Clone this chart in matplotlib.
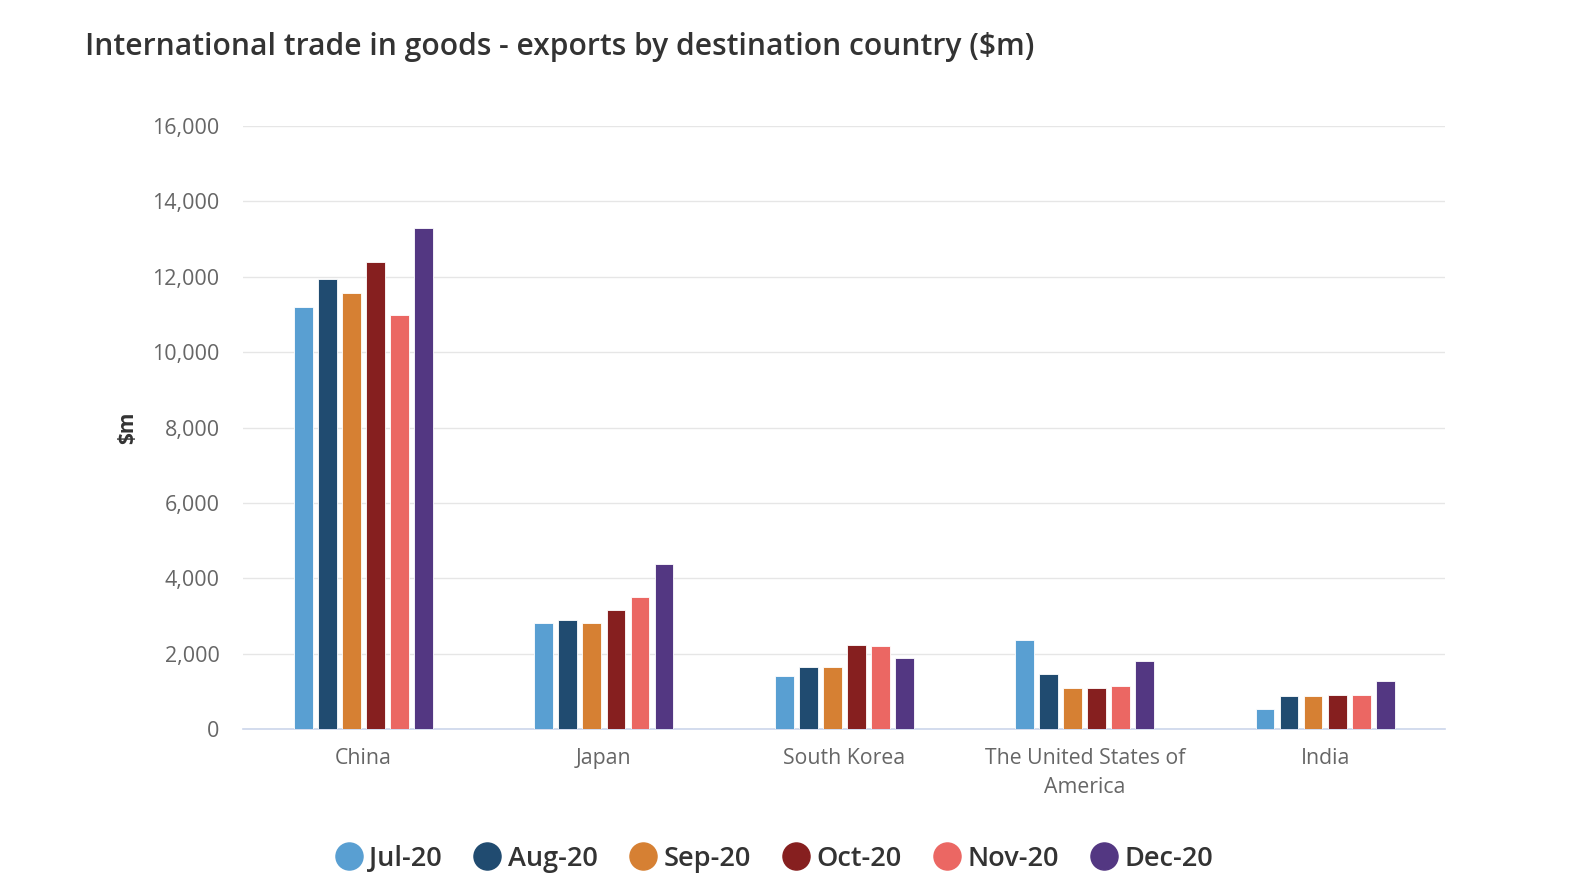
import matplotlib
matplotlib.use("Agg")
import matplotlib.pyplot as plt
from matplotlib.lines import Line2D
import numpy as np

categories = ["China", "Japan", "South Korea", "The United States of\nAmerica", "India"]
months = ["Jul-20", "Aug-20", "Sep-20", "Oct-20", "Nov-20", "Dec-20"]
jul = [11200, 2810, 1400, 2360, 520]
aug = [11950, 2890, 1655, 1450, 870]
sep = [11580, 2810, 1655, 1090, 870]
oct_ = [12400, 3150, 2230, 1090, 910]
nov = [10980, 3500, 2190, 1130, 910]
dec = [13300, 4370, 1880, 1800, 1270]
series = [jul, aug, sep, oct_, nov, dec]
colors = ["#599fd2", "#204b70", "#d68033", "#861f1f", "#eb6763", "#533782"]
yticks = [0, 2000, 4000, 6000, 8000, 10000, 12000, 14000, 16000]

plt.rcParams['font.family'] = ['Open Sans', 'DejaVu Sans']

fig = plt.figure(figsize=(15.9, 8.94), dpi=100)
ax = fig.add_axes([0.153, 0.1846, 0.756, 0.6744])

x = np.arange(len(categories))
step = 0.1
width = 0.078
for i, (vals, c) in enumerate(zip(series, colors)):
    ax.bar(x + (i - 2.5) * step, vals, width=width, color=c, edgecolor="white",
           linewidth=0.6, zorder=3, label=months[i])

ax.set_xlim(-0.5, len(categories) - 0.5)
ax.set_ylim(0, 16000)
ax.set_yticks(yticks)
ax.set_yticklabels([f"{v:,}" for v in yticks], color="#666666", fontsize=15.5)
ax.set_xticks(x)
ax.set_xticklabels(categories, color="#666666", fontsize=15.3, linespacing=1.45)
ax.tick_params(axis='both', length=0)
ax.tick_params(axis='y', pad=17)
ax.tick_params(axis='x', pad=14)
ax.grid(axis='y', color="#e6e6e6", linewidth=1, zorder=0)
for s in ["top", "right", "left"]:
    ax.spines[s].set_visible(False)
ax.spines["bottom"].set_color("#ccd6eb")
ax.spines["bottom"].set_linewidth(1.2)
ax.set_ylabel("$m", fontsize=15, fontweight="bold", color="#333333", labelpad=10)

fig.text(0.0535, 0.947, "International trade in goods - exports by destination country ($m)",
         fontsize=21.6, fontweight="semibold", color="#333333", va="center", ha="left")

handles = [Line2D([0], [0], marker='o', linestyle='none', markersize=19.5,
                  markerfacecolor=c, markeredgecolor=c) for c in colors]
leg = fig.legend(handles, months, loc="center", bbox_to_anchor=(0.487, 0.0395), ncol=6,
                 frameon=False, fontsize=19.5, handletextpad=0.25, columnspacing=1.18,
                 handlelength=1.0)
for t in leg.get_texts():
    t.set_color("#333333")
    t.set_fontweight("semibold")

fig.savefig("out.png", dpi=100)
